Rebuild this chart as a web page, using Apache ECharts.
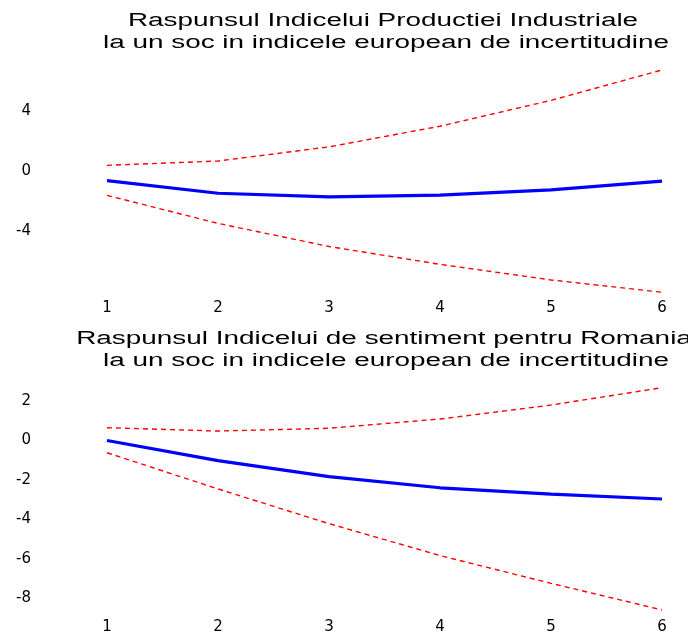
<!DOCTYPE html>
<html>
<head>
<meta charset="utf-8">
<script src="https://cdn.jsdelivr.net/npm/echarts@6/dist/echarts.min.js"></script>
<style>
  html, body { margin: 0; padding: 0; background: #fff; }
  #chart { width: 688px; height: 632px; }
</style>
</head>
<body>
<div id="chart"></div>
<script>
// Impulse responses (horizon 1..6) with lower/upper confidence bands
const horizons = ['1', '2', '3', '4', '5', '6'];

// Panel 1: industrial production index
const ipiResponse = [-0.61, -1.45, -1.69, -1.58, -1.23, -0.64];
const ipiUpper    = [0.41, 0.70, 1.64, 3.02, 4.74, 6.77];
const ipiLower    = [-1.59, -3.46, -5.00, -6.19, -7.23, -8.05];

// Panel 2: economic sentiment indicator for Romania
const esiResponse = [0.00, -1.02, -1.83, -2.40, -2.72, -2.97];
const esiUpper    = [0.65, 0.48, 0.62, 1.09, 1.80, 2.68];
const esiLower    = [-0.62, -2.46, -4.22, -5.84, -7.25, -8.60];

// Titles
const title1 = ['Raspunsul Indicelui Productiei Industriale',
                'la un soc in indicele european de incertitudine'];
const title2 = ['Raspunsul Indicelui de sentiment pentru Romania',
                'la un soc in indicele european de incertitudine'];

// Y tick labels actually printed on each panel
const ticks1 = [4, 0, -4];
const ticks2 = [2, 0, -2, -4, -6, -8];

const FONT = '"Liberation Sans", Arial, sans-serif';
const TICK_FONT = '"DejaVu Sans", sans-serif';
const STRETCH = 1.55;   // wide glyph look of the titles

function yAxis(gridIndex, min, max, interval, shown) {
  return {
    type: 'value', gridIndex, min, max, interval,
    axisLine: { show: false }, axisTick: { show: false }, splitLine: { show: false },
    axisLabel: {
      margin: 76, color: '#000', fontFamily: TICK_FONT, fontSize: 15,
      formatter: v => shown.indexOf(v) >= 0 ? String(v) : ''
    }
  };
}
function xAxis(gridIndex, margin) {
  return {
    type: 'category', gridIndex, data: horizons, boundaryGap: false,
    axisLine: { show: false }, axisTick: { show: false }, splitLine: { show: false },
    axisLabel: { margin, color: '#000', fontFamily: TICK_FONT, fontSize: 15 }
  };
}
function band(idx, data) {
  return {
    type: 'line', xAxisIndex: idx, yAxisIndex: idx, data, symbol: 'none', clip: false,
    lineStyle: { color: '#ff0000', width: 1.4, type: [5, 4] }, z: 2
  };
}
function resp(idx, data) {
  return {
    type: 'line', xAxisIndex: idx, yAxisIndex: idx, data, symbol: 'none', clip: false,
    lineStyle: { color: '#0000ff', width: 3.2 }, z: 3
  };
}
// A title line: text centred at local origin, horizontally stretched by its group
function titleLine(text, x, y) {
  return {
    type: 'group', x: x, y: y, scaleX: STRETCH, scaleY: 1,
    children: [{
      type: 'text', x: 0, y: 0,
      style: {
        text: text, fill: '#000', font: '18px ' + FONT,
        align: 'center', verticalAlign: 'middle'
      }
    }]
  };
}

const chart = echarts.init(document.getElementById('chart'), null, { renderer: 'canvas' });
chart.setOption({
  animation: false,
  backgroundColor: '#fff',
  grid: [
    { left: 107, right: 26, top: 51.5, height: 240, outerBoundsMode: 'none', containLabel: false },
    { left: 107, right: 26, top: 361.7, height: 236.4, outerBoundsMode: 'none', containLabel: false }
  ],
  xAxis: [xAxis(0, 9), xAxis(1, 22)],
  yAxis: [yAxis(0, -8, 8, 4, ticks1), yAxis(1, -8, 4, 2, ticks2)],
  series: [
    band(0, ipiUpper), band(0, ipiLower), resp(0, ipiResponse),
    band(1, esiUpper), band(1, esiLower), resp(1, esiResponse)
  ],
  graphic: [
    titleLine(title1[0], 383, 21),
    titleLine(title1[1], 386, 43),
    titleLine(title2[0], 384, 339),
    titleLine(title2[1], 386, 361)
  ]
});
</script>
</body>
</html>
